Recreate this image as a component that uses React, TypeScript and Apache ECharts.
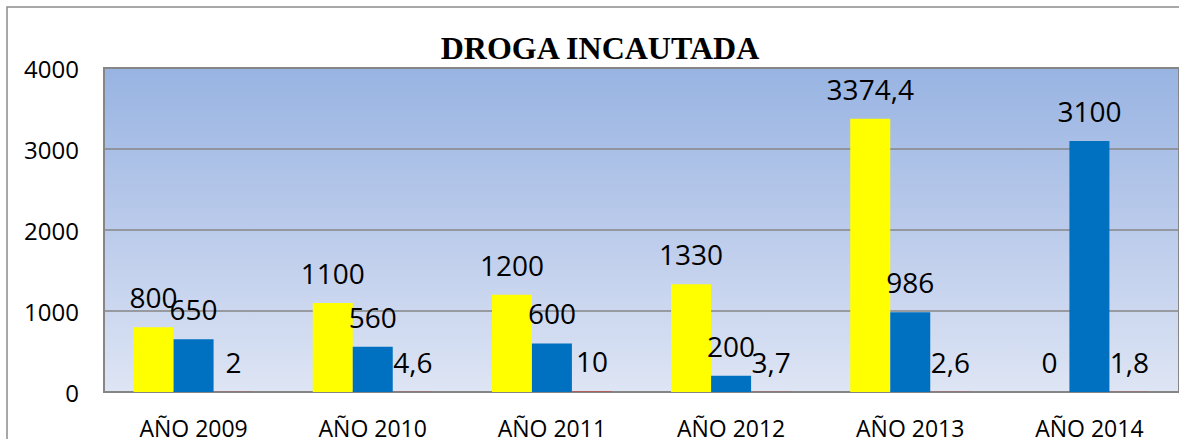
import React, { useEffect, useRef } from "react";
import * as echarts from "echarts";

const categories = ["AÑO 2009", "AÑO 2010", "AÑO 2011", "AÑO 2012", "AÑO 2013", "AÑO 2014"];
const serieAmarilla = [800, 1100, 1200, 1330, 3374.4, 0];
const serieAzul = [650, 560, 600, 200, 986, 3100];
const serieRoja = [2, 4.6, 10, 3.7, 2.6, 1.8];
const yTicks = { min: 0, max: 4000, interval: 1000 };
const title = "DROGA INCAUTADA";

const FONT = "'Open Sans', 'Noto Sans', sans-serif";

const fmt = (v: number) => String(v).replace(".", ",");

export default function App() {
  const ref = useRef<HTMLDivElement>(null);
  useEffect(() => {
    if (!ref.current) return;
    const chart = echarts.init(ref.current, null, { renderer: "svg" });
    const label = {
      show: true,
      position: "top" as const,
      distance: 16,
      fontFamily: FONT,
      fontSize: 28,
      lineHeight: 28,
      color: "#000",
      formatter: (p: any) => fmt(p.value),
    };
    chart.setOption({
      animation: false,
      backgroundColor: "#fff",
      title: {
        text: title,
        left: 595,
        top: 27,
        textAlign: "center",
        textStyle: {
          fontFamily: "'Liberation Serif', 'Times New Roman', serif",
          fontWeight: "bold",
          fontSize: 32,
          color: "#000",
        },
      },
      graphic: [
        {
          type: "rect",
          shape: { x: 7, y: 7, width: 1300, height: 600 },
          style: { fill: "none", stroke: "#8c8c8c", lineWidth: 1.5 },
          silent: true,
          z: 100,
        },
      ],
      grid: {
        left: 104,
        top: 68,
        width: 1080,
        bottom: 43,
        containLabel: false,
        show: true,
        borderColor: "#868686",
        borderWidth: 2,
        backgroundColor: new echarts.graphic.LinearGradient(0, 0, 0, 1, [
          { offset: 0, color: "#98B4E2" },
          { offset: 0.5, color: "#BBCBEB" },
          { offset: 1, color: "#DEE5F4" },
        ]),
      },
      xAxis: {
        type: "category",
        data: categories,
        axisLine: { show: true, lineStyle: { color: "#868686", width: 2 } },
        axisTick: { show: false },
        axisLabel: {
          margin: 24,
          fontFamily: FONT,
          fontSize: 23,
          color: "#000",
        },
      },
      yAxis: {
        type: "value",
        min: yTicks.min,
        max: yTicks.max,
        interval: yTicks.interval,
        axisLine: { show: false },
        axisTick: { show: false },
        splitLine: { show: true, lineStyle: { color: "#868686", width: 1.5 } },
        axisLabel: {
          margin: 25,
          fontFamily: FONT,
          fontSize: 24,
          color: "#000",
          formatter: (v: number) => String(v),
        },
      },
      series: [
        {
          type: "bar",
          data: serieAmarilla,
          barWidth: 40,
          barGap: "0%",
          itemStyle: { color: "#FFFF00" },
          label,
        },
        {
          type: "bar",
          data: serieAzul,
          barWidth: 40,
          barGap: "0%",
          itemStyle: { color: "#0070C0" },
          label,
        },
        {
          type: "bar",
          data: serieRoja,
          barWidth: 40,
          barGap: "0%",
          itemStyle: { color: "#C0504D" },
          label,
        },
      ],
    });
    return () => chart.dispose();
  }, []);
  return (
    <div
      ref={ref}
      style={{ position: "fixed", left: 0, top: 0, width: 1179, height: 439 }}
    />
  );
}
